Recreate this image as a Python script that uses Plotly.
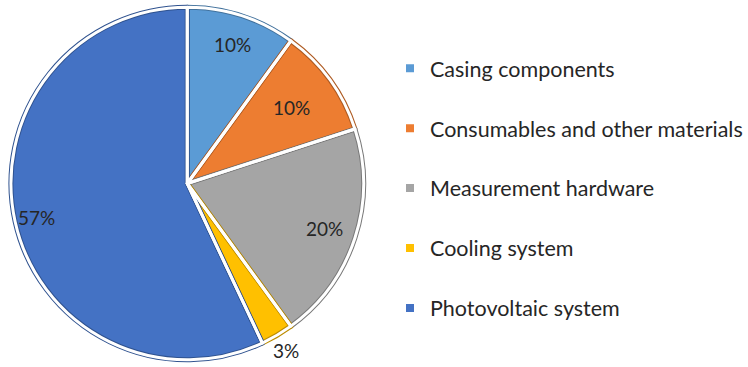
import math
import plotly.graph_objects as go

categories = ["Casing components", "Consumables and other materials",
              "Measurement hardware", "Cooling system", "Photovoltaic system"]
values = [10, 10, 20, 3, 57]
colors = ["#5B9BD5", "#ED7D31", "#A5A5A5", "#FFC000", "#4472C4"]
edge_colors = ["#41719C", "#AE5A21", "#787878", "#BC8C00", "#2F528F"]
label_radius = [0.83, 0.73, 0.82, 1.10, 0.88]  # fraction of pie radius

W, H = 748, 367
dom_x = [0.0147, 0.488]
dom_y = [0.019, 0.981]

fig = go.Figure()
common = dict(labels=categories, values=values, sort=False, direction="clockwise",
              rotation=0, textinfo="none", showlegend=False,
              domain=dict(x=dom_x, y=dom_y), hoverinfo="label+percent")
fig.add_trace(go.Pie(marker=dict(colors=colors,
                                 line=dict(color=edge_colors, width=5)), **common))
fig.add_trace(go.Pie(marker=dict(colors=["rgba(0,0,0,0)"] * len(values),
                                 line=dict(color="white", width=3)), **common))

# percentage labels computed from the values
cx = (dom_x[0] + dom_x[1]) / 2 * W
cy = (1 - (dom_y[0] + dom_y[1]) / 2) * H
R = min((dom_x[1] - dom_x[0]) * W, (dom_y[1] - dom_y[0]) * H) / 2
total = sum(values)
cum = 0
for v, rf in zip(values, label_radius):
    mid = (cum + v / 2) / total * 2 * math.pi
    cum += v
    px = cx + rf * R * math.sin(mid)
    py = cy - rf * R * math.cos(mid)
    fig.add_annotation(x=px / W, y=1 - py / H, xref="paper", yref="paper",
                       xanchor="center", yanchor="middle",
                       text=f"{round(v / total * 100)}%", showarrow=False,
                       font=dict(family="Lato", size=19, color="#262626"))

for c, col in zip(categories, colors):
    fig.add_trace(go.Scatter(x=[None], y=[None], mode="markers", name=c,
                             legendgroup=c,
                             marker=dict(symbol="square", size=8, color=col)))

fig.update_layout(
    width=W, height=H, margin=dict(l=0, r=0, t=0, b=0),
    paper_bgcolor="white", plot_bgcolor="white",
    xaxis=dict(visible=False), yaxis=dict(visible=False),
    legend=dict(x=0.5236, y=0.87, xanchor="left", yanchor="top",
                font=dict(family="Lato", size=21.5, color="#262626"),
                tracegroupgap=29, itemwidth=30, bgcolor="rgba(0,0,0,0)"),
    font=dict(family="Lato"),
)
fig.write_html("out.html")
